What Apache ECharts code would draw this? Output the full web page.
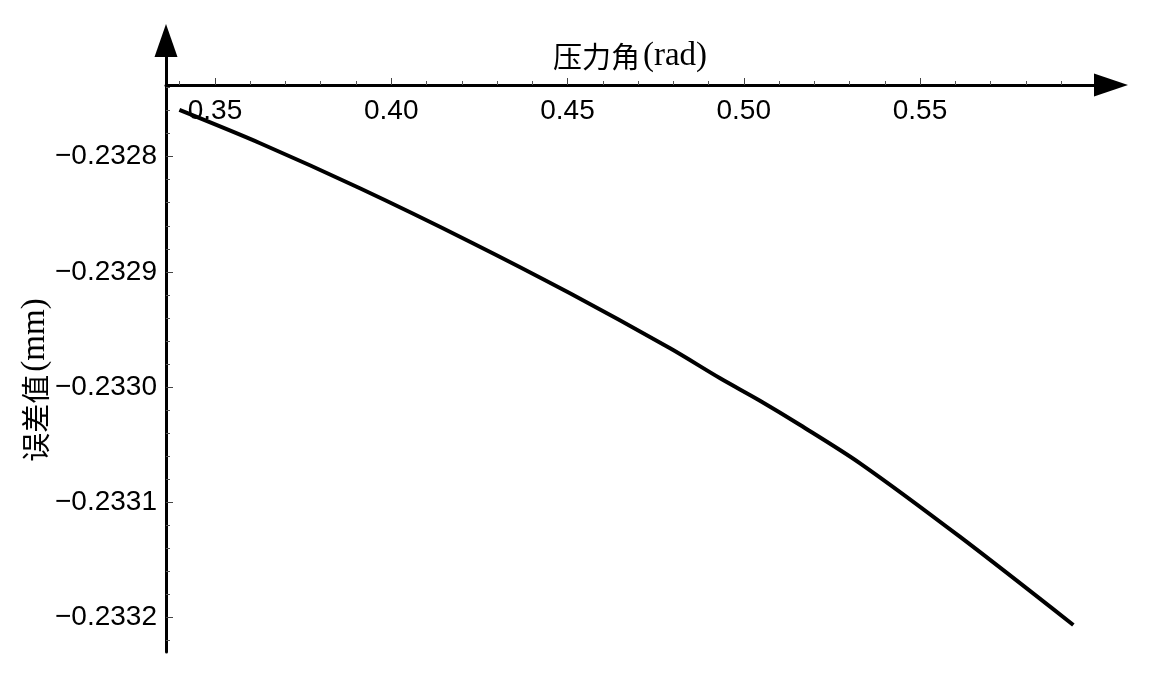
<!DOCTYPE html>
<html>
<head>
<meta charset="utf-8">
<script src="https://cdn.jsdelivr.net/npm/echarts@6/dist/echarts.min.js"></script>
<style>
html,body{margin:0;padding:0;background:#fff;}
#chart{width:1165px;height:697px;}
</style>
</head>
<body>
<div id="chart"></div>
<script>
// Pressure angle (rad) and error value (mm)
const pressureAngle = [0.3399, 0.3628, 0.3911, 0.4223, 0.4507, 0.4791, 0.4933, 0.5046, 0.5160, 0.5330, 0.5613, 0.5935];
const errorValue = [-0.23275944, -0.23278836, -0.23282744, -0.23287381, -0.23291862, -0.23296639,
                    -0.23299244, -0.23301189, -0.23303299, -0.23306625, -0.23312999, -0.23320667];

// Tick values
const xMajorTicks = [0.35, 0.40, 0.45, 0.50, 0.55];
const xMinorTicks = [0.34, 0.36, 0.37, 0.38, 0.39, 0.41, 0.42, 0.43, 0.44, 0.46, 0.47, 0.48, 0.49,
                     0.51, 0.52, 0.53, 0.54, 0.56, 0.57, 0.58, 0.59];
const yMajorTicks = [-0.2328, -0.2329, -0.2330, -0.2331, -0.2332];
const yMinorTicks = [-0.23274, -0.23276, -0.23278, -0.23282, -0.23284, -0.23286, -0.23288,
                     -0.23292, -0.23294, -0.23296, -0.23298, -0.23302, -0.23304, -0.23306, -0.23308,
                     -0.23312, -0.23314, -0.23316, -0.23318, -0.23322];

const xNameCJK = '压力角', xNameUnit = '(rad)';
const yNameCJK = '误差值', yNameUnit = '(mm)';

const X_MIN = 0.3361, X_MAX = 0.59936;
const Y_MIN = -0.2332301, Y_MAX = -0.23271345;

const labelFont = '"Liberation Sans", Arial, sans-serif';
const cjkFont = '"Noto Sans CJK SC", sans-serif';
const serifFont = '"Liberation Serif", serif';

const nameRich = {
  c: {fontFamily: cjkFont, fontSize: 29, color: '#000'},
  u: {fontFamily: serifFont, fontSize: 33, color: '#000', padding: [0, 0, 0, 3]}
};

const chart = echarts.init(document.getElementById('chart'), null, {renderer: 'canvas'});

const option = {
  animation: false,
  backgroundColor: '#ffffff',
  grid: {left: 166, top: 57, right: 71, bottom: 45, containLabel: false},
  xAxis: [
    {
      type: 'value', position: 'top', offset: -28, min: X_MIN, max: X_MAX,
      name: '{c|' + xNameCJK + '}{u|' + xNameUnit + '}', nameLocation: 'middle', nameGap: 12,
      nameMoveOverlap: false,
      nameTextStyle: {rich: nameRich, padding: [0, 0, 0, 0]},
      axisLine: {show: true, symbol: ['none', 'triangle'], symbolSize: [23, 34], symbolOffset: [0, 17],
                 lineStyle: {color: '#000', width: 3}},
      axisTick: {show: true, inside: false, length: 7, customValues: xMajorTicks,
                 lineStyle: {color: '#444', width: 1}},
      axisLabel: {show: true, inside: true, margin: 12, customValues: xMajorTicks,
                  fontFamily: labelFont, fontSize: 28, color: '#000',
                  formatter: v => v.toFixed(2)},
      splitLine: {show: false}
    },
    {
      type: 'value', position: 'top', offset: -28, min: X_MIN, max: X_MAX,
      axisLine: {show: false},
      axisTick: {show: true, inside: false, length: 4, customValues: xMinorTicks,
                 lineStyle: {color: '#555', width: 1}},
      axisLabel: {show: false},
      splitLine: {show: false}
    }
  ],
  yAxis: [
    {
      type: 'value', position: 'left', min: Y_MIN, max: Y_MAX,
      name: '{c|' + yNameCJK + '}{u|' + yNameUnit + '}', nameLocation: 'middle', nameGap: 114, nameRotate: 90,
      nameMoveOverlap: false,
      nameTextStyle: {rich: nameRich, padding: [0, 51, 0, 0]},
      axisLine: {show: true, symbol: ['none', 'triangle'], symbolSize: [23, 33], symbolOffset: [0, 16.5],
                 lineStyle: {color: '#000', width: 3}},
      axisTick: {show: true, inside: true, length: 7, customValues: yMajorTicks,
                 lineStyle: {color: '#444', width: 1}},
      axisLabel: {show: true, margin: 9, customValues: yMajorTicks,
                  fontFamily: labelFont, fontSize: 28, color: '#000',
                  formatter: v => '\u2212' + Math.abs(v).toFixed(4)},
      splitLine: {show: false}
    },
    {
      type: 'value', position: 'left', offset: 0, min: Y_MIN, max: Y_MAX,
      axisLine: {show: false},
      axisTick: {show: true, inside: true, length: 4, customValues: yMinorTicks,
                 lineStyle: {color: '#555', width: 1}},
      axisLabel: {show: false},
      splitLine: {show: false}
    }
  ],
  series: [
    {
      type: 'line', xAxisIndex: 0, yAxisIndex: 0,
      data: pressureAngle.map((x, i) => [x, errorValue[i]]),
      smooth: 0.3, showSymbol: false, symbol: 'none',
      lineStyle: {color: '#000', width: 4}
    }
  ]
};
chart.setOption(option);
</script>
</body>
</html>
